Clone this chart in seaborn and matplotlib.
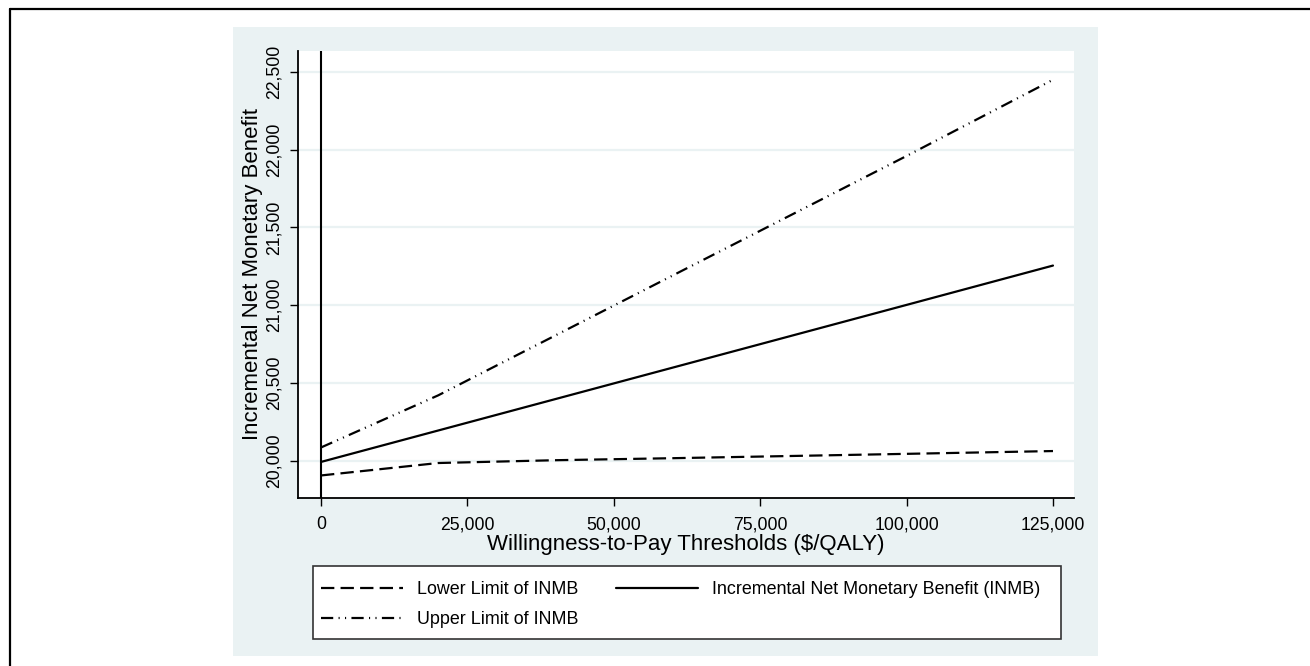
import numpy as np
import pandas as pd
import matplotlib
matplotlib.use("Agg")
import matplotlib.pyplot as plt
import seaborn as sns
from matplotlib.patches import Rectangle
from matplotlib.lines import Line2D

# willingness-to-pay thresholds and INMB estimates
wtp = [0, 20000, 40000, 60000, 80000, 100000, 125000]
inmb = [19992, 20194, 20396, 20598, 20800, 21002, 21255]
lower = [19905, 19985, 20003, 20016, 20030, 20044, 20062]
upper = [20085, 20420, 20805, 21190, 21575, 21960, 22450]

x_ticks = [0, 25000, 50000, 75000, 100000, 125000]
y_ticks = [20000, 20500, 21000, 21500, 22000, 22500]

STATA_BG = "#EAF2F3"
W, H = 1310, 666

sns.set_theme(style="white")
plt.rcParams["font.family"] = ["Liberation Sans", "DejaVu Sans"]
plt.rcParams["text.color"] = "black"
plt.rcParams["axes.labelcolor"] = "black"
plt.rcParams["xtick.color"] = "black"
plt.rcParams["ytick.color"] = "black"

fig = plt.figure(figsize=(W / 100, H / 100), dpi=100)
fig.patch.set_facecolor("white")

# graph region (Stata s2color style)
fig.patches.append(Rectangle((233 / W, 1 - 656 / H), (1098 - 233) / W, (656 - 27) / H,
                             transform=fig.transFigure, facecolor=STATA_BG,
                             edgecolor="none", zorder=-2))
# outer frame: only top and left edges visible
fig.lines.append(Line2D([10 / W, 1.0], [1 - 9 / H, 1 - 9 / H], transform=fig.transFigure,
                        color="black", lw=1.6))
fig.lines.append(Line2D([10 / W, 10 / W], [0, 1 - 9 / H], transform=fig.transFigure,
                        color="black", lw=1.6))

ax = fig.add_axes([298 / W, 1 - 498 / H, (1074 - 298) / W, (498 - 51) / H])
ax.set_facecolor("white")

df = pd.DataFrame({"wtp": wtp, "inmb": inmb, "lower": lower, "upper": upper})

lw = 1.6
sns.lineplot(data=df, x="wtp", y="lower", ax=ax, color="black", lw=lw,
             linestyle=(0, (6.0, 2.8)), errorbar=None, label="Lower Limit of INMB")
sns.lineplot(data=df, x="wtp", y="upper", ax=ax, color="black", lw=lw,
             linestyle=(0, (5.5, 2.4, 0.5, 2.4, 0.5, 2.4)), errorbar=None,
             label="Upper Limit of INMB")
sns.lineplot(data=df, x="wtp", y="inmb", ax=ax, color="black", lw=lw,
             errorbar=None, label="Incremental Net Monetary Benefit (INMB)")

ax.axvline(0, color="black", lw=1.5, zorder=3)

ax.set_xlim(-3930, 128590)
ax.set_ylim(19760, 22635)
ax.set_xticks(x_ticks)
ax.set_yticks(y_ticks)
ax.set_xticklabels([f"{v:,}" for v in x_ticks], fontsize=12.7)
ax.set_yticklabels([f"{v:,}" for v in y_ticks], fontsize=12.7, rotation=90, va="center")

ax.grid(axis="y", color=STATA_BG, lw=1.6)
ax.set_axisbelow(True)
for side in ["top", "right"]:
    ax.spines[side].set_visible(False)
for side in ["left", "bottom"]:
    ax.spines[side].set_color("black")
    ax.spines[side].set_linewidth(1.3)
ax.tick_params(axis="both", direction="out", length=6, width=1, color="black",
               bottom=True, left=True)
ax.tick_params(axis="x", pad=7)
ax.tick_params(axis="y", pad=5)

ax.set_xlabel("Willingness-to-Pay Thresholds ($/QALY)", fontsize=16, labelpad=1)
ax.set_ylabel("Incremental Net Monetary Benefit", fontsize=16, labelpad=2)

# legend: frame drawn separately to match Stata's box
handles, labels = ax.get_legend_handles_labels()
ax.get_legend().remove()
fig.patches.append(Rectangle((313 / W, 1 - 639 / H), (1061 - 313) / W, (639 - 566) / H,
                             transform=fig.transFigure, facecolor="white",
                             edgecolor="#333333", lw=1.2, zorder=-1))
leg = fig.legend(handles, labels,
                 loc="upper left", bbox_to_anchor=(321 / W, 1 - 581 / H),
                 ncol=2, frameon=False, fontsize=12.9, handlelength=4.6,
                 handletextpad=0.75, columnspacing=2.1, labelspacing=0.72,
                 borderpad=0, borderaxespad=0)

fig.savefig("out.png", dpi=100)
